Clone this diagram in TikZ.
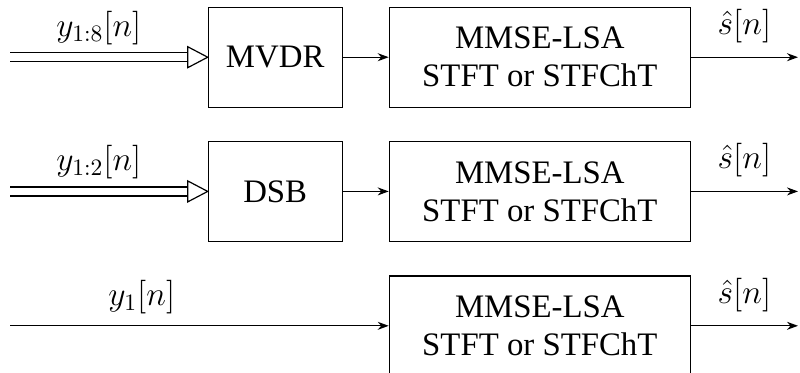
\RequirePackage{fix-cm}
\documentclass[tikz,border=0pt]{standalone}
\usepackage[no-math]{fontspec}
\setmainfont{Liberation Serif}
\usetikzlibrary{arrows.meta}
\tikzset{
  blk/.style={draw, line width=0.6pt, minimum height=49.9pt, inner sep=0pt,
    align=center, font=\fontsize{16.4}{19}\selectfont},
  small/.style={blk, minimum width=66.9pt},
  wide/.style={blk, minimum width=150.5pt},
  sig/.style={line width=0.6pt, -{Stealth[length=5.5pt,width=4pt]}},
  dbl/.style={line width=0.6pt, double, double distance=3.9pt},
  tri/.style={line width=0.6pt, line join=miter},
  lbl/.style={font=\fontsize{16.8}{19}\selectfont, inner sep=3.33pt}
}
\begin{document}
\begin{tikzpicture}[x=0.5pt, y=-0.5pt]
\useasboundingbox (0,0) rectangle (800,372);
% row 1
\node[small] (mvdr) at (275.2,57.2) {MVDR};
\node[wide] (m1) at (539.8,57.2) {MMSE-LSA\\STFT or STFChT};
\coordinate (in1) at (10,57.2);
\coordinate (out1) at (798,57.2);
\coordinate (t1) at ([xshift=-10pt]mvdr.west);
\draw[dbl] (in1) -- node[lbl, above=2.6pt] {$y_{1:8}[n]$} (t1);
\draw[tri] (mvdr.west) -- ([yshift=5.25pt]t1) -- ([yshift=-5.25pt]t1) -- cycle;
\draw[sig] (mvdr) -- (m1);
\draw[sig] (m1) -- node[lbl, above=3.5pt] {$\hat{s}[n]$} (out1);
% row 2
\node[small] (dsb) at (275.2,191.4) {DSB};
\node[wide] (m2) at (539.8,191.4) {MMSE-LSA\\STFT or STFChT};
\coordinate (in2) at (10,191.4);
\coordinate (out2) at (798,191.4);
\coordinate (t2) at ([xshift=-10pt]dsb.west);
\draw[dbl] (in2) -- node[lbl, above=2.6pt] {$y_{1:2}[n]$} (t2);
\draw[tri] (dsb.west) -- ([yshift=5.25pt]t2) -- ([yshift=-5.25pt]t2) -- cycle;
\draw[sig] (dsb) -- (m2);
\draw[sig] (m2) -- node[lbl, above=3.5pt] {$\hat{s}[n]$} (out2);
% row 3
\node[wide] (m3) at (539.8,325.8) {MMSE-LSA\\STFT or STFChT};
\coordinate (in3) at (10,325.8);
\coordinate (out3) at (798,325.8);
\draw[sig] (in3) -- node[lbl, above=2.2pt, pos=0.348] {$y_{1}[n]$} (m3);
\draw[sig] (m3) -- node[lbl, above=3.5pt] {$\hat{s}[n]$} (out3);
\end{tikzpicture}
\end{document}
